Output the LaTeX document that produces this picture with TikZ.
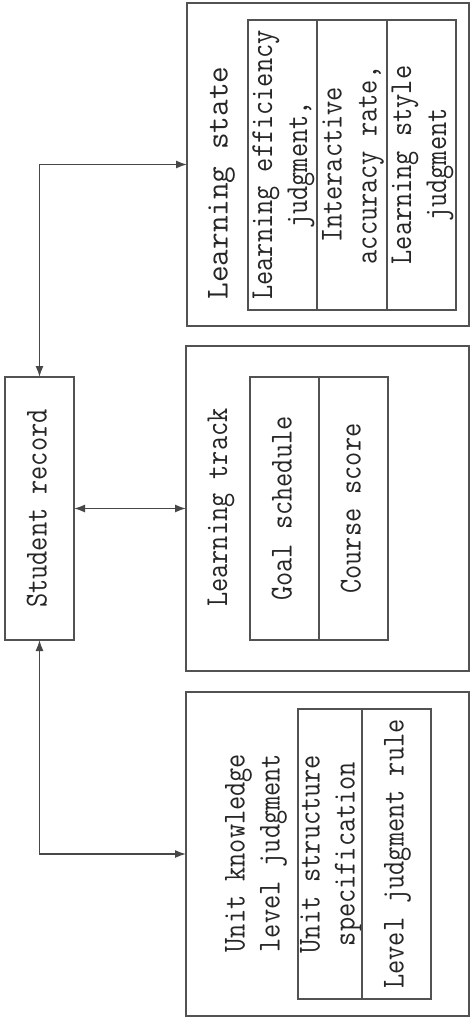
\documentclass[tikz,border=0pt]{standalone}
\usepackage{graphicx}
\usepackage{fontspec}
\usetikzlibrary{arrows.meta}
\newfontfamily\dfont[FakeStretch=0.86]{Latin Modern Mono}
\newfontfamily\dfontwide[FakeStretch=1.01]{Latin Modern Mono}
\newcommand{\rtext}[1]{\makebox[0pt][c]{\rotatebox{90}{\begin{tabular}{@{}c@{}}#1\end{tabular}}}}
\tikzset{
  boxshape/.style={draw=black!68, line width=1.4pt, rectangle, inner sep=0pt, outer sep=0pt,
    text=black!85, font=\dfont\fontsize{32}{35}\selectfont},
  cell/.style={boxshape},
  titletext/.style={inner sep=0pt, outer sep=0pt, text=black!85, font=\dfont\fontsize{32}{35}\selectfont},
  link/.style={draw=black!72, line width=1.4pt, {Latex[length=11pt,width=8pt]}-{Latex[length=11pt,width=8pt]}}
}
\begin{document}
\begin{tikzpicture}[x=1pt,y=-1pt]
\useasboundingbox (0,0) rectangle (474,1019);
% student record
\node[boxshape, minimum width=69pt, minimum height=263pt] (rec) at (39.5,508.5) {\rtext{Student record}};
% top group
\node[boxshape, minimum width=282pt, minimum height=323pt] (top) at (328,164.5) {};
\node[titletext, font=\dfontwide\fontsize{32}{35}\selectfont] (toptitle) at (220.5,183) {\rtext{Learning state}};
\node[cell, minimum width=69pt, minimum height=290pt] (t1) at (282.5,165) {\rtext{Learning efficiency\\judgment,}};
\node[cell, minimum width=70pt, minimum height=290pt] (t2) at (352,165) {\rtext{Interactive\\accuracy rate,}};
\node[cell, minimum width=69pt, minimum height=290pt] (t3) at (421.5,165) {\rtext{Learning style\\judgment}};
% middle group
\node[boxshape, minimum width=283pt, minimum height=325pt] (mid) at (327.5,508.5) {};
\node[titletext] (midtitle) at (220,507.5) {\rtext{Learning track}};
\node[cell, minimum width=69pt, minimum height=263pt] (m1) at (284.5,508.5) {\rtext{Goal schedule}};
\node[cell, minimum width=69pt, minimum height=263pt] (m2) at (353.5,508.5) {\rtext{Course score}};
% bottom group
\node[boxshape, minimum width=283pt, minimum height=324pt] (bot) at (327.5,854) {};
\node[titletext] (bottitle) at (255,853) {\rtext{Unit knowledge\\level judgment}};
\node[cell, minimum width=64pt, minimum height=290pt] (b1) at (330,854) {\rtext{Unit structure\\specification}};
\node[cell, minimum width=69pt, minimum height=290pt] (b2) at (396.5,854) {\rtext{Level judgment rule}};
% connectors
\draw[link] (rec.north) |- (top.west);
\draw[link] (rec.east) -- (mid.west);
\draw[link] (rec.south) |- (bot.west);
\end{tikzpicture}
\end{document}
